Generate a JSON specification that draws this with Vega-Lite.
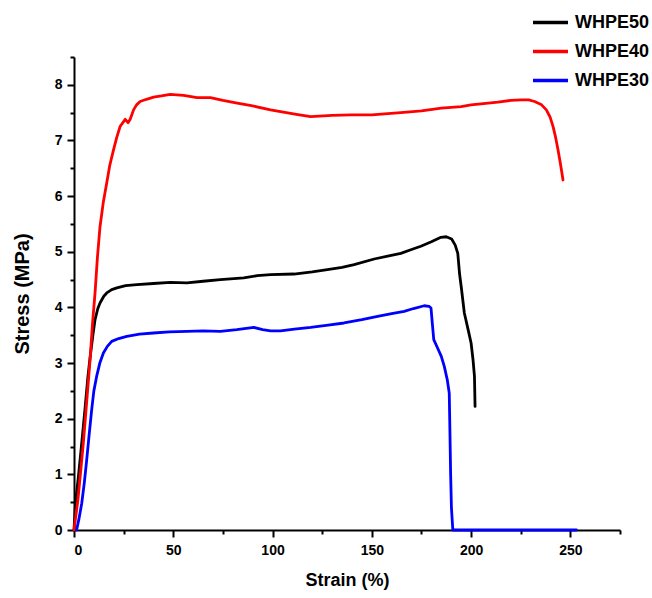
{
  "$schema": "https://vega.github.io/schema/vega-lite/v6.json",
  "width": 546,
  "height": 473,
  "autosize": {"type": "none"},
  "padding": {"left": 74, "top": 57, "right": 32, "bottom": 68},
  "background": "white",
  "config": {
    "view": {"stroke": null},
    "font": "Liberation Sans",
    "axis": {"grid": false, "domainColor": "black", "domainWidth": 2, "tickColor": "black", "tickWidth": 2, "labelColor": "black", "titleColor": "black", "labelFont": "Liberation Sans", "titleFont": "Liberation Sans", "labelFontWeight": "bold", "titleFontWeight": "bold", "labelFontSize": 14}
  },
  "datasets": {
    "curves": [
      {"series": "WHPE50", "strain": 0, "stress": 0},
      {"series": "WHPE50", "strain": 0.8, "stress": 0.5},
      {"series": "WHPE50", "strain": 2.2, "stress": 0.95},
      {"series": "WHPE50", "strain": 4, "stress": 1.6},
      {"series": "WHPE50", "strain": 5.6, "stress": 2.2},
      {"series": "WHPE50", "strain": 7, "stress": 2.75},
      {"series": "WHPE50", "strain": 8.1, "stress": 3.1},
      {"series": "WHPE50", "strain": 9.5, "stress": 3.5},
      {"series": "WHPE50", "strain": 10.6, "stress": 3.78},
      {"series": "WHPE50", "strain": 12, "stress": 3.98},
      {"series": "WHPE50", "strain": 13.1, "stress": 4.08},
      {"series": "WHPE50", "strain": 15, "stress": 4.2},
      {"series": "WHPE50", "strain": 16.5, "stress": 4.26},
      {"series": "WHPE50", "strain": 19, "stress": 4.32},
      {"series": "WHPE50", "strain": 21.6, "stress": 4.35},
      {"series": "WHPE50", "strain": 26, "stress": 4.39},
      {"series": "WHPE50", "strain": 31.7, "stress": 4.41},
      {"series": "WHPE50", "strain": 40, "stress": 4.43},
      {"series": "WHPE50", "strain": 48.5, "stress": 4.45},
      {"series": "WHPE50", "strain": 56.9, "stress": 4.44},
      {"series": "WHPE50", "strain": 65, "stress": 4.47},
      {"series": "WHPE50", "strain": 73.7, "stress": 4.5},
      {"series": "WHPE50", "strain": 85.5, "stress": 4.53},
      {"series": "WHPE50", "strain": 92.3, "stress": 4.57},
      {"series": "WHPE50", "strain": 99, "stress": 4.59},
      {"series": "WHPE50", "strain": 110.8, "stress": 4.6},
      {"series": "WHPE50", "strain": 120, "stress": 4.64},
      {"series": "WHPE50", "strain": 127.6, "stress": 4.68},
      {"series": "WHPE50", "strain": 135, "stress": 4.72},
      {"series": "WHPE50", "strain": 141.1, "stress": 4.77},
      {"series": "WHPE50", "strain": 151.2, "stress": 4.87},
      {"series": "WHPE50", "strain": 158, "stress": 4.92},
      {"series": "WHPE50", "strain": 164.6, "stress": 4.97},
      {"series": "WHPE50", "strain": 170, "stress": 5.04},
      {"series": "WHPE50", "strain": 174.7, "stress": 5.1},
      {"series": "WHPE50", "strain": 180, "stress": 5.18},
      {"series": "WHPE50", "strain": 184.8, "stress": 5.26},
      {"series": "WHPE50", "strain": 187.5, "stress": 5.27},
      {"series": "WHPE50", "strain": 190.2, "stress": 5.23},
      {"series": "WHPE50", "strain": 192, "stress": 5.12},
      {"series": "WHPE50", "strain": 193.3, "stress": 4.97},
      {"series": "WHPE50", "strain": 194.2, "stress": 4.6},
      {"series": "WHPE50", "strain": 195, "stress": 4.38},
      {"series": "WHPE50", "strain": 196.6, "stress": 3.9},
      {"series": "WHPE50", "strain": 198.5, "stress": 3.6},
      {"series": "WHPE50", "strain": 200, "stress": 3.36},
      {"series": "WHPE50", "strain": 201, "stress": 3.05},
      {"series": "WHPE50", "strain": 201.7, "stress": 2.76},
      {"series": "WHPE50", "strain": 202, "stress": 2.22},

      {"series": "WHPE40", "strain": 0, "stress": 0},
      {"series": "WHPE40", "strain": 2, "stress": 0.55},
      {"series": "WHPE40", "strain": 4.7, "stress": 1.56},
      {"series": "WHPE40", "strain": 6.5, "stress": 2.35},
      {"series": "WHPE40", "strain": 8.1, "stress": 3.06},
      {"series": "WHPE40", "strain": 9.3, "stress": 3.7},
      {"series": "WHPE40", "strain": 10.6, "stress": 4.26},
      {"series": "WHPE40", "strain": 11.8, "stress": 4.9},
      {"series": "WHPE40", "strain": 13.1, "stress": 5.45},
      {"series": "WHPE40", "strain": 14.8, "stress": 5.9},
      {"series": "WHPE40", "strain": 16.5, "stress": 6.24},
      {"series": "WHPE40", "strain": 18, "stress": 6.55},
      {"series": "WHPE40", "strain": 19.9, "stress": 6.83},
      {"series": "WHPE40", "strain": 21.5, "stress": 7.05},
      {"series": "WHPE40", "strain": 23.2, "stress": 7.25},
      {"series": "WHPE40", "strain": 25.8, "stress": 7.38},
      {"series": "WHPE40", "strain": 27.2, "stress": 7.32},
      {"series": "WHPE40", "strain": 28.3, "stress": 7.38},
      {"series": "WHPE40", "strain": 30, "stress": 7.55},
      {"series": "WHPE40", "strain": 31.5, "stress": 7.64},
      {"series": "WHPE40", "strain": 33.3, "stress": 7.7},
      {"series": "WHPE40", "strain": 36.5, "stress": 7.74},
      {"series": "WHPE40", "strain": 40.1, "stress": 7.78},
      {"series": "WHPE40", "strain": 44, "stress": 7.8},
      {"series": "WHPE40", "strain": 48.5, "stress": 7.83},
      {"series": "WHPE40", "strain": 55.2, "stress": 7.81},
      {"series": "WHPE40", "strain": 62, "stress": 7.77},
      {"series": "WHPE40", "strain": 68.7, "stress": 7.77},
      {"series": "WHPE40", "strain": 75, "stress": 7.72},
      {"series": "WHPE40", "strain": 82.2, "stress": 7.67},
      {"series": "WHPE40", "strain": 90, "stress": 7.62},
      {"series": "WHPE40", "strain": 99, "stress": 7.55},
      {"series": "WHPE40", "strain": 104, "stress": 7.52},
      {"series": "WHPE40", "strain": 112, "stress": 7.47},
      {"series": "WHPE40", "strain": 119.2, "stress": 7.43},
      {"series": "WHPE40", "strain": 130, "stress": 7.45},
      {"series": "WHPE40", "strain": 139.4, "stress": 7.46},
      {"series": "WHPE40", "strain": 150, "stress": 7.46},
      {"series": "WHPE40", "strain": 164.6, "stress": 7.5},
      {"series": "WHPE40", "strain": 175, "stress": 7.53},
      {"series": "WHPE40", "strain": 185, "stress": 7.58},
      {"series": "WHPE40", "strain": 195, "stress": 7.61},
      {"series": "WHPE40", "strain": 200, "stress": 7.64},
      {"series": "WHPE40", "strain": 213.5, "stress": 7.69},
      {"series": "WHPE40", "strain": 220, "stress": 7.72},
      {"series": "WHPE40", "strain": 225.3, "stress": 7.73},
      {"series": "WHPE40", "strain": 229, "stress": 7.73},
      {"series": "WHPE40", "strain": 232, "stress": 7.7},
      {"series": "WHPE40", "strain": 235.5, "stress": 7.64},
      {"series": "WHPE40", "strain": 237.9, "stress": 7.55},
      {"series": "WHPE40", "strain": 239.8, "stress": 7.42},
      {"series": "WHPE40", "strain": 241.3, "stress": 7.25},
      {"series": "WHPE40", "strain": 242.6, "stress": 7.05},
      {"series": "WHPE40", "strain": 243.8, "stress": 6.83},
      {"series": "WHPE40", "strain": 245, "stress": 6.58},
      {"series": "WHPE40", "strain": 246.3, "stress": 6.29},

      {"series": "WHPE30", "strain": 1.3, "stress": 0},
      {"series": "WHPE30", "strain": 2.5, "stress": 0.2},
      {"series": "WHPE30", "strain": 3.9, "stress": 0.48},
      {"series": "WHPE30", "strain": 5.2, "stress": 0.85},
      {"series": "WHPE30", "strain": 6.4, "stress": 1.26},
      {"series": "WHPE30", "strain": 7.6, "stress": 1.7},
      {"series": "WHPE30", "strain": 8.9, "stress": 2.16},
      {"series": "WHPE30", "strain": 10, "stress": 2.5},
      {"series": "WHPE30", "strain": 11.4, "stress": 2.76},
      {"series": "WHPE30", "strain": 13, "stress": 3.0},
      {"series": "WHPE30", "strain": 14.8, "stress": 3.18},
      {"series": "WHPE30", "strain": 16.8, "stress": 3.3},
      {"series": "WHPE30", "strain": 19, "stress": 3.39},
      {"series": "WHPE30", "strain": 22.5, "stress": 3.44},
      {"series": "WHPE30", "strain": 26.6, "stress": 3.48},
      {"series": "WHPE30", "strain": 33, "stress": 3.52},
      {"series": "WHPE30", "strain": 40, "stress": 3.54},
      {"series": "WHPE30", "strain": 48, "stress": 3.56},
      {"series": "WHPE30", "strain": 56.9, "stress": 3.57},
      {"series": "WHPE30", "strain": 65, "stress": 3.58},
      {"series": "WHPE30", "strain": 73.7, "stress": 3.57},
      {"series": "WHPE30", "strain": 82, "stress": 3.6},
      {"series": "WHPE30", "strain": 90.6, "stress": 3.64},
      {"series": "WHPE30", "strain": 95, "stress": 3.6},
      {"series": "WHPE30", "strain": 99, "stress": 3.58},
      {"series": "WHPE30", "strain": 104, "stress": 3.58},
      {"series": "WHPE30", "strain": 111, "stress": 3.61},
      {"series": "WHPE30", "strain": 119.2, "stress": 3.64},
      {"series": "WHPE30", "strain": 128, "stress": 3.68},
      {"series": "WHPE30", "strain": 136, "stress": 3.72},
      {"series": "WHPE30", "strain": 145, "stress": 3.78},
      {"series": "WHPE30", "strain": 152.9, "stress": 3.84},
      {"series": "WHPE30", "strain": 160, "stress": 3.89},
      {"series": "WHPE30", "strain": 166.3, "stress": 3.93},
      {"series": "WHPE30", "strain": 171, "stress": 3.98},
      {"series": "WHPE30", "strain": 176.4, "stress": 4.03},
      {"series": "WHPE30", "strain": 178.8, "stress": 4.02},
      {"series": "WHPE30", "strain": 179.8, "stress": 3.99},
      {"series": "WHPE30", "strain": 180.5, "stress": 3.7},
      {"series": "WHPE30", "strain": 181.2, "stress": 3.42},
      {"series": "WHPE30", "strain": 183, "stress": 3.28},
      {"series": "WHPE30", "strain": 185, "stress": 3.12},
      {"series": "WHPE30", "strain": 186.5, "stress": 2.94},
      {"series": "WHPE30", "strain": 188, "stress": 2.7},
      {"series": "WHPE30", "strain": 189, "stress": 2.46},
      {"series": "WHPE30", "strain": 189.3, "stress": 1.86},
      {"series": "WHPE30", "strain": 189.7, "stress": 1.0},
      {"series": "WHPE30", "strain": 190.1, "stress": 0.4},
      {"series": "WHPE30", "strain": 190.8, "stress": 0},
      {"series": "WHPE30", "strain": 253, "stress": 0}
    ]
  },
  "data": {"name": "curves"},
  "layer": [
    {
      "mark": {"type": "point", "opacity": 0},
      "encoding": {
        "x": {"field": "strain", "type": "quantitative", "scale": {"domain": [0, 275], "nice": false, "zero": false},
              "axis": {"orient": "bottom", "values": [25, 75, 125, 175, 225, 275], "labels": false, "tickSize": 4, "domain": false, "title": null}},
        "y": {"field": "stress", "type": "quantitative", "scale": {"domain": [0, 8.5], "nice": false, "zero": false},
              "axis": {"orient": "left", "values": [0.5, 1.5, 2.5, 3.5, 4.5, 5.5, 6.5, 7.5, 8.5], "labels": false, "tickSize": 4, "domain": false, "title": null}}
      }
    },
    {
      "mark": {"type": "line", "strokeWidth": 2.8, "strokeJoin": "round", "strokeCap": "round"},
      "encoding": {
        "x": {"field": "strain", "type": "quantitative", "scale": {"domain": [0, 275], "nice": false, "zero": false},
              "axis": {"orient": "bottom", "values": [0, 50, 100, 150, 200, 250], "tickSize": 7, "labelPadding": 6, "title": "Strain (%)", "titleFontSize": 18, "titlePadding": 14}},
        "y": {"field": "stress", "type": "quantitative", "scale": {"domain": [0, 8.5], "nice": false, "zero": false},
              "axis": {"orient": "left", "values": [0, 1, 2, 3, 4, 5, 6, 7, 8], "tickSize": 7, "labelPadding": 5, "title": "Stress (MPa)", "titleFontSize": 20, "titlePadding": 22}},
        "color": {"field": "series", "type": "nominal",
                  "scale": {"domain": ["WHPE50", "WHPE40", "WHPE30"], "range": ["#000000", "#ff0000", "#0000ff"]},
                  "legend": {"title": null, "orient": "none", "legendX": 457, "legendY": -54, "symbolType": "stroke", "symbolSize": 1225, "symbolStrokeWidth": 3.5, "labelFontSize": 18, "labelFontWeight": "bold", "labelFont": "Liberation Sans", "labelColor": "black", "rowPadding": -2, "labelOffset": 5}}
      }
    }
  ],
  "resolve": {"axis": {"x": "independent", "y": "independent"}}
}
